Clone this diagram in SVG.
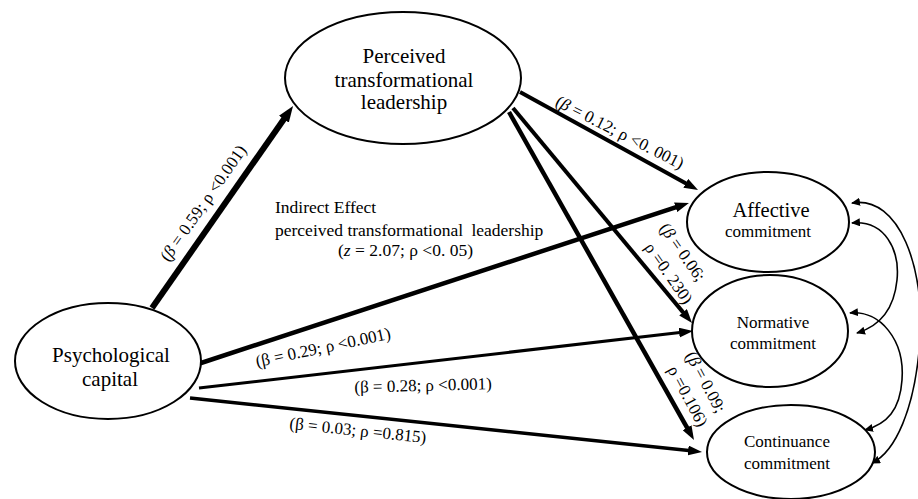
<svg xmlns="http://www.w3.org/2000/svg" width="918" height="499" viewBox="0 0 918 499">
  <style>
    .node ellipse { fill: #ffffff; stroke: #000000; stroke-width: 2; }
    text { font-family: "Liberation Serif", "Times New Roman", serif; fill: #000000; }
    .big { font-size: 21px; text-anchor: middle; }
    .mid { font-size: 17px; text-anchor: middle; }
    .lbl { font-size: 17px; text-anchor: middle; }
    .note { font-size: 17.5px; }
    .path { stroke: #000000; fill: none; }
    .cov { stroke: #000000; stroke-width: 1.6; fill: none; marker-start: url(#tip); marker-end: url(#tip); }
    .it { font-style: italic; }
  </style>
  <defs>
    <marker id="head" markerUnits="userSpaceOnUse" viewBox="0 0 14 10" markerWidth="14" markerHeight="10" refX="3" refY="5" orient="auto">
      <path d="M0,0 L14,5 L0,10 z" fill="#000000"/>
    </marker>
    <marker id="headL" markerUnits="userSpaceOnUse" viewBox="0 0 16 12" markerWidth="16" markerHeight="12" refX="3" refY="6" orient="auto">
      <path d="M0,0 L16,6 L0,12 z" fill="#000000"/>
    </marker>
    <marker id="tip" markerUnits="userSpaceOnUse" viewBox="0 0 9 8" markerWidth="9" markerHeight="8" refX="8" refY="4" orient="auto-start-reverse">
      <path d="M0,0 L9,4 L0,8 z" fill="#000000"/>
    </marker>
  </defs>

  <!-- structural paths -->
  <g id="connectors">
    <line class="path" x1="152" y1="308" x2="285.6" y2="116.7" stroke-width="6" marker-end="url(#headL)"/>
    <line class="path" x1="520" y1="92" x2="688.4" y2="184.7" stroke-width="4" marker-end="url(#head)"/>
    <line class="path" x1="513" y1="108" x2="685" y2="314.6" stroke-width="4" marker-end="url(#head)"/>
    <line class="path" x1="509" y1="112" x2="688.6" y2="430.4" stroke-width="4.5" marker-end="url(#head)"/>
    <line class="path" x1="198" y1="364" x2="678.5" y2="206.4" stroke-width="4.5" marker-end="url(#head)"/>
    <line class="path" x1="199" y1="388" x2="682.1" y2="332.3" stroke-width="3" marker-end="url(#head)"/>
    <line class="path" x1="190" y1="398" x2="691.1" y2="450.8" stroke-width="3.5" marker-end="url(#head)"/>

    <!-- correlations between commitment types -->
    <path class="cov" d="M852,203 C900,195 925,270 920,340 C915,410 895,452 872,463"/>
    <path class="cov" d="M852,223 C885,220 900,250 897,280 C894,310 880,326 857,333"/>
    <path class="cov" d="M850,313 C880,310 905,340 902,380 C900,410 887,424 865,430"/>
  </g>

  <!-- path coefficients -->
  <g id="edge-labels">
    <text class="lbl" transform="translate(203,203) rotate(-55)" dy="0.35em">(<tspan class="it">β</tspan> = 0.59; ρ &lt;0.001)</text>
    <text class="lbl" transform="translate(620,132) rotate(27)" dy="0.35em">(<tspan class="it">β</tspan> = 0.12; ρ &lt;0. 001)</text>
    <text class="lbl" transform="translate(683,252) rotate(55)" dy="0.35em">(<tspan class="it">β</tspan> = 0.06;</text>
    <text class="lbl" transform="translate(669,273) rotate(55)" dy="0.35em">ρ =0. 230)</text>
    <text class="lbl" transform="translate(706,382) rotate(62)" dy="0.35em">(<tspan class="it">β</tspan> = 0.09;</text>
    <text class="lbl" transform="translate(688,396) rotate(62)" dy="0.35em">ρ =0.106)</text>
    <text class="lbl" transform="translate(323,347) rotate(-12)" dy="0.35em">(β = 0.29; ρ &lt;0.001)</text>
    <text class="lbl" transform="translate(423,385) rotate(-1.5)" dy="0.35em">(β = 0.28; ρ &lt;0.001)</text>
    <text class="lbl" transform="translate(358,430) rotate(6)" dy="0.35em">(β = 0.03; ρ =0.815)</text>
  </g>

  <g id="indirect-effect">
    <text class="note" x="275" y="213">Indirect Effect</text>
    <text class="note" x="275" y="236">perceived transformational <tspan dx="4">leadership</tspan></text>
    <text class="note" x="405.5" y="256" text-anchor="middle">(<tspan class="it">z</tspan> = 2.07; ρ &lt;0. 05)</text>
  </g>

  <g id="leadership" class="node">
    <ellipse cx="403" cy="78" rx="118" ry="66"/>
    <text class="big" x="404" y="63">Perceived</text>
    <text class="big" x="404" y="87">transformational</text>
    <text class="big" x="404" y="109">leadership</text>
  </g>

  <g id="psycap" class="node">
    <ellipse cx="108" cy="361" rx="93" ry="58"/>
    <text class="big" x="111" y="362">Psychological</text>
    <text class="big" x="110" y="386">capital</text>
  </g>

  <g id="affective" class="node">
    <ellipse cx="768" cy="222" rx="81" ry="50"/>
    <text class="big" x="771" y="217" style="font-size:20.5px">Affective</text>
    <text class="mid" x="768" y="237">commitment</text>
  </g>

  <g id="normative" class="node">
    <ellipse cx="770" cy="331" rx="78" ry="56"/>
    <text class="mid" x="773" y="328">Normative</text>
    <text class="mid" x="773" y="349">commitment</text>
  </g>

  <g id="continuance" class="node">
    <ellipse cx="791" cy="452" rx="84" ry="47"/>
    <text class="mid" x="787" y="447">Continuance</text>
    <text class="mid" x="787" y="469">commitment</text>
  </g>
</svg>
